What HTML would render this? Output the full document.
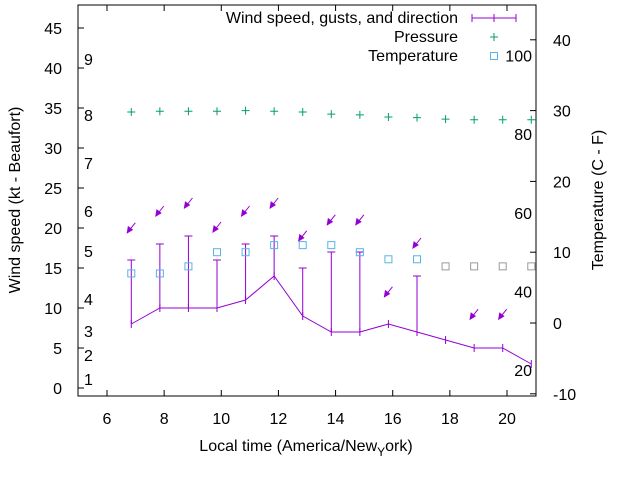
<!DOCTYPE html>
<html><head><meta charset="utf-8"><style>
body{margin:0;background:#fff}
svg{font-family:"Liberation Sans",sans-serif;font-size:16px}
</style></head><body>
<svg id="c" width="640" height="480"></svg>
<script>
const hours=[6,7,8,9,10,11,12,13,14,15,16,17,18,19,20];
const wind=[8,10,10,10,11,14,9,7,7,8,7,6,5,5,3];
const gusts=[16,18,19,16,18,19,15,17,17,null,14,null,null,null,null];
const pressure=[29.8,29.9,29.9,29.9,30.0,29.9,29.8,29.5,29.4,29.1,29.0,28.8,28.7,28.7,28.7];
const temps=[7,7,8,10,10,11,11,11,10,9,9,8,8,8,8];
const arrowLevel=[19.4,21.5,22.5,19.5,21.5,22.5,18.4,20.4,20.4,11.4,17.5,null,8.6,8.6,null];
const yTicks=[0,5,10,15,20,25,30,35,40,45];
const xTicks=[6,8,10,12,14,16,18,20];
const y2Ticks=[-10,0,10,20,30,40];
const beaufort=["1","2","3","4","5","6","7","8","9"];
const beaufortY=[1.1,4.1,7.1,11.1,17.1,22.1,28.1,34.1,41.1];
const fTicks=[20,40,60,80,100];
const L=78,R=536,T=5,B=396;
const X=t=>107+(t-6)*400/14;
const Y=v=>388-8*v;
const Y2=c=>323-7.08*c;
const s=document.getElementById('c');
const NS='http://www.w3.org/2000/svg';
function mk(tag,at,txt){const e=document.createElementNS(NS,tag);for(const k in at)e.setAttribute(k,at[k]);if(txt!=null)e.textContent=txt;s.appendChild(e);return e;}
let e;
e=mk('rect',{x:L,y:T,width:R-L,height:B-T,fill:'none',stroke:'#000','stroke-width':1});


yTicks.forEach(v=>{mk('line',{x1:L,x2:L+6,y1:Y(v),y2:Y(v),stroke:'#000'});
e=mk('text',{x:62,y:Y(v)+6,'text-anchor':'end'},v);

});
xTicks.forEach(v=>{mk('line',{x1:X(v),x2:X(v),y1:B,y2:B-6,stroke:'#000'});mk('line',{x1:X(v),x2:X(v),y1:T,y2:T+6,stroke:'#000'});
e=mk('text',{x:X(v),y:424,'text-anchor':'middle'},v);

});
y2Ticks.forEach(v=>{mk('line',{x1:R,x2:R-6,y1:Y2(v),y2:Y2(v),stroke:'#000'});
e=mk('text',{x:553,y:Y2(v)+6},v);

});
beaufort.forEach((b,i)=>{e=mk('text',{x:84,y:Y(beaufortY[i])+6},b);

});
fTicks.forEach(f=>{e=mk('text',{x:532,y:Y2((f-32)*5/9)+6,'text-anchor':'end'},f);

});
const tx=i=>X(hours[i]+0.85);
// wind line
e=mk('polyline',{points:wind.map((w,i)=>tx(i)+','+Y(w)).join(' '),fill:'none',stroke:'#9400d3','stroke-width':1});


wind.forEach((w,i)=>{mk('line',{x1:tx(i),x2:tx(i),y1:Y(w)-4,y2:Y(w)+4,stroke:'#9400d3'});
if(gusts[i]!=null){e=mk('line',{x1:tx(i),x2:tx(i),y1:Y(w),y2:Y(gusts[i]),stroke:'#9400d3'});


mk('line',{x1:tx(i)-4,x2:tx(i)+4,y1:Y(gusts[i]),y2:Y(gusts[i]),stroke:'#9400d3'});}
if(arrowLevel[i]!=null){const hx=tx(i)-4,hy=Y(arrowLevel[i]);
e=mk('g',{stroke:'#9400d3',fill:'#9400d3'});


const l=document.createElementNS(NS,'line');l.setAttribute('x1',hx+8);l.setAttribute('y1',hy-10);l.setAttribute('x2',hx);l.setAttribute('y2',hy);e.appendChild(l);
const p=document.createElementNS(NS,'polygon');p.setAttribute('points',`${hx},${hy} ${hx+1},${hy-6} ${hx+5},${hy-3}`);e.appendChild(p);}
});
pressure.forEach((p,i)=>{const x=tx(i),y=Y2(p);
e=mk('path',{d:`M${x-4},${y}H${x+4}M${x},${y-4}V${y+4}`,stroke:'#009e73'});

});
temps.forEach((c,i)=>{const x=tx(i),y=Y2(c);
e=mk('rect',{x:x-3.5,y:y-3.5,width:7,height:7,fill:'none',stroke:i>=11?'#999':'#56b4e9'});

});
// legend
[['Wind speed, gusts, and direction',18],['Pressure',37],['Temperature',56]].forEach(([t,y])=>{e=mk('text',{x:458,y:y+5,'text-anchor':'end'},t);

});
e=mk('path',{d:'M472,18H516M472,14V22M494,14V22M516,14V22',stroke:'#9400d3'});


e=mk('path',{d:'M490,37H498M494,33V41',stroke:'#009e73'});


e=mk('rect',{x:490.5,y:52.5,width:7,height:7,fill:'none',stroke:'#56b4e9'});


e=mk('text',{x:0,y:0,transform:'translate(20,200) rotate(-90)','text-anchor':'middle'},'Wind speed (kt - Beaufort)');


e=mk('text',{x:0,y:0,transform:'translate(603,200) rotate(-90)','text-anchor':'middle'},'Temperature (C - F)');


e=mk('text',{x:306,y:451,'text-anchor':'middle'});


e.innerHTML='Local time (America/New<tspan dy="5" font-size="12">Y</tspan><tspan dy="-5">ork)</tspan>';
</script>
</body></html>
